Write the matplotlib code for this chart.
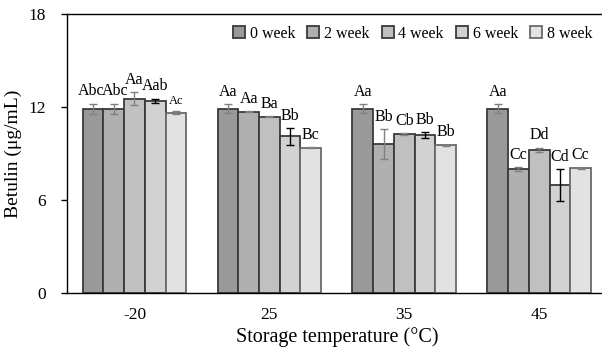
import matplotlib
matplotlib.use("Agg")
import matplotlib.pyplot as plt
import numpy as np

categories = ["-20", "25", "35", "45"]
series = ["0 week", "2 week", "4 week", "6 week", "8 week"]
values = [
    [11.90, 11.90, 12.54, 12.40, 11.63],   # -20
    [11.90, 11.70, 11.38, 10.10, 9.38],    # 25
    [11.90, 9.61, 10.26, 10.17, 9.53],     # 35
    [11.90, 8.00, 9.23, 6.98, 8.04],       # 45
]
errors = [
    [0.32, 0.32, 0.40, 0.14, 0.10],
    [0.28, 0.05, 0.05, 0.56, 0.05],
    [0.28, 0.97, 0.05, 0.20, 0.05],
    [0.28, 0.10, 0.15, 1.04, 0.05],
]
letters = [
    ["Abc", "Abc", "Aa", "Aab", "Ac"],
    ["Aa", "Aa", "Ba", "Bb", "Bc"],
    ["Aa", "Bb", "Cb", "Bb", "Bb"],
    ["Aa", "Cc", "Dd", "Cd", "Cc"],
]
yticks = [0, 6, 12, 18]

colors = ["#999999", "#b0b0b0", "#c0c0c0", "#d2d2d2", "#e2e2e2"]
edgecolors = ["#3a3a3a", "#3a3a3a", "#3a3a3a", "#3a3a3a", "#6a6a6a"]
errcolors = ["#808080", "#808080", "#808080", "#000000", "#808080"]

plt.rcParams["font.family"] = ["Liberation Serif", "DejaVu Serif"]

fig = plt.figure(figsize=(6.02, 3.5), dpi=100)
ax = fig.add_axes([67 / 602, 1 - 293 / 350, 539.6 / 602, (293 - 14) / 350])

vals = np.array(values)
errs = np.array(errors)
x = np.arange(len(categories))
w = 0.1535
for j, s in enumerate(series):
    pos = x + (j - 2) * w
    ax.bar(pos, vals[:, j], width=w, color=colors[j], edgecolor=edgecolors[j],
           linewidth=1.3, label=s, zorder=2)
    ax.errorbar(pos, vals[:, j], yerr=errs[:, j], fmt="none", ecolor=errcolors[j],
                elinewidth=1.0, capsize=3, capthick=1.0, zorder=3)
    for i in range(len(categories)):
        fs = 9 if letters[i][j] == "Ac" else 11.5
        dx = 0
        if i == 0 and j == 0:
            dx = -1.5
        elif i == 0 and j == 1:
            dx = 1.0
        ax.annotate(letters[i][j], (pos[i], vals[i, j] + errs[i, j]),
                    xytext=(dx, 3), textcoords="offset points",
                    ha="center", va="bottom", fontsize=fs)

ax.set_xlim(-0.5, len(categories) - 0.5)
ax.set_ylim(0, 18)
ax.set_yticks(yticks)
ax.set_yticklabels([str(t) for t in yticks], fontsize=12.5)
ax.set_xticks(x)
ax.set_xticklabels(categories, fontsize=12.5)
ax.tick_params(axis="x", length=0, pad=10)
ax.tick_params(axis="y", direction="out", length=4, width=1, pad=11)
ax.spines["right"].set_visible(False)
for sp in ["left", "top", "bottom"]:
    ax.spines[sp].set_linewidth(1.0)
ax.set_ylabel("Betulin (μg/mL)", fontsize=14)
ax.yaxis.set_label_coords(-0.083, 0.5)
ax.set_xlabel("Storage temperature (°C)", fontsize=14.5, labelpad=3)

ax.legend(loc="upper right", bbox_to_anchor=(1.0, 1.01), ncol=5, frameon=False,
          fontsize=11.5, handlelength=0.75, handleheight=0.75, handletextpad=0.3,
          columnspacing=0.75)

fig.savefig("out.png", dpi=100)
